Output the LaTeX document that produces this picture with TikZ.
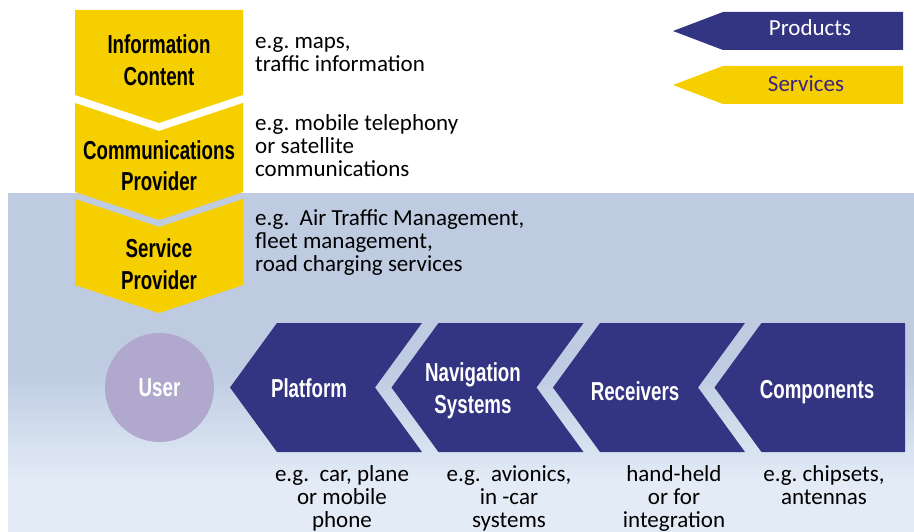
\documentclass[tikz,border=0pt]{standalone}
\usepackage{fontspec}
\setmainfont{Carlito}
\newfontfamily\headfont{Liberation Sans}[FakeStretch=0.72]
\usetikzlibrary{positioning}
\frenchspacing

\definecolor{gold}{RGB}{246,207,0}
\definecolor{navy}{RGB}{51,52,130}
\definecolor{haze}{RGB}{190,203,225}
\definecolor{cloud}{RGB}{226,235,246}
\definecolor{lilac}{RGB}{177,168,205}
\definecolor{plum}{RGB}{58,36,128}

% multi-line nodes sit on the baseline of their last line
\tikzset{
  head/.style={font=\headfont\bfseries\fontsize{26}{31.5}\selectfont, align=center, inner sep=0pt},
  eg/.style={font=\fontsize{23}{23.5}\selectfont, align=left, anchor=base west, inner sep=0pt},
  note/.style={font=\fontsize{23}{23}\selectfont, align=center, anchor=base, inner sep=0pt},
  key/.style={font=\fontsize{23}{24}\selectfont, anchor=base, inner sep=0pt},
}

\begin{document}
\begin{tikzpicture}[x=1pt, y=-1pt]
  \useasboundingbox (0,0) rectangle (914,532);

  % sky behind the lower half
  \fill[haze] (8,193) rectangle (914,532);
  \shade[top color=haze, bottom color=cloud] (8,370) rectangle (914,480);
  \fill[cloud] (8,480) rectangle (914,532);

  % service chain, top down
  \fill[gold] (75,10) -- (243,10) -- (243,95) -- (159,123) -- (75,95) -- cycle;
  \fill[gold] (75,103) -- (159,131) -- (243,103) -- (243,192) -- (159,220) -- (75,192) -- cycle;
  \fill[gold] (75,199) -- (159,227) -- (243,199) -- (243,285) -- (159,313) -- (75,285) -- cycle;

  \node[head] (info) at (159,60) {Information\\Content};
  \node[head] (comm) at (159,165.5) {Communications\\Provider};
  \node[head] (serv) at (159,264) {Service\\Provider};

  \node[eg] (infoeg) at (255,72) {e.g. maps,\\traffic information};
  \node[eg] (commeg) at (255,177) {e.g. mobile telephony\\or satellite\\communications};
  \node[eg] (serveg) at (255,272) {e.g.~ Air Traffic Management,\\fleet management,\\road charging services};

  % legend
  \fill[navy] (673,31) -- (723,12) -- (903,12) -- (903,50) -- (723,50) -- cycle;
  \fill[gold] (673,85) -- (723,66) -- (903,66) -- (903,104) -- (723,104) -- cycle;
  \node[key, text=white] (products) at (810,36) {Products};
  \node[key, text=plum] (services) at (806,92) {Services};

  % product chain, right to left
  \foreach \x in {230,391.5,553}
    \fill[navy] (\x,387.5) -- ++(47,-64.5) -- ++(145,0) -- ++(-47,64.5)
      -- ++(47,64.5) -- ++(-145,0) -- cycle;
  \fill[navy] (714.5,387.5) -- (761.5,323) -- (905,323) -- (905,452) -- (761.5,452) -- cycle;

  \node[head, circle, fill=lilac, text=white, minimum size=109pt] (user) at (159.5,387.5) {User};
  \node[head, text=white] (platform) at (309,388) {Platform};
  \node[head, text=white] (nav) at (473,391) {Navigation\\Systems};
  \node[head, text=white] (recv) at (635,391) {Receivers};
  \node[head, text=white] (comp) at (817,392) {Components};

  \node[note] (platformeg) at (342,527) {e.g.~ car, plane\\or mobile\\phone};
  \node[note] (naveg) at (509,527) {e.g.~ avionics,\\in -car\\systems};
  \node[note] (recveg) at (674,527) {hand-held\\or for\\integration};
  \node[note] (compeg) at (824,504) {e.g. chipsets,\\antennas};
\end{tikzpicture}
\end{document}
